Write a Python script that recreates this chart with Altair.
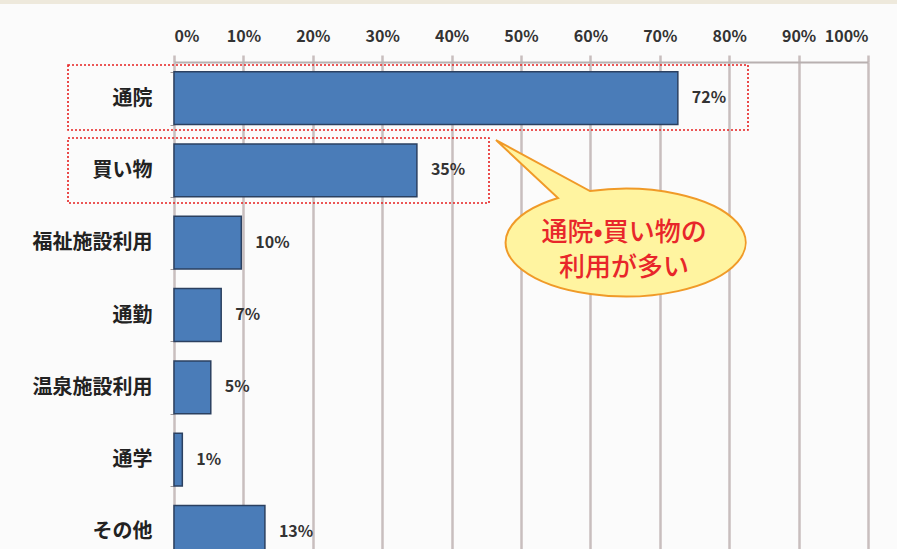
import altair as alt
import pandas as pd

categories = ["通院", "買い物", "福祉施設利用", "通勤", "温泉施設利用", "通学", "その他"]
values = [72.6, 35, 9.7, 6.8, 5.3, 1.2, 13.1]
value_labels = ["72%", "35%", "10%", "7%", "5%", "1%", "13%"]
callout_lines = ["通院•買い物の", "利用が多い"]

df = pd.DataFrame({"cat": categories, "val": values, "lab": value_labels})

FONT = "Noto Sans CJK JP"
x_scale = alt.Scale(domain=[0, 100])
y_enc = alt.Y("cat:N", sort=categories,
              scale=alt.Scale(paddingInner=0.27, paddingOuter=0.135),
              axis=alt.Axis(title=None, domain=False, ticks=True, tickBand="extent",
                            tickSize=4, tickColor="#a09898", labelPadding=18,
                            labelFontSize=20, labelFontWeight="bold", labelColor="#222222",
                            labelFont=FONT))

bars = alt.Chart(df).mark_bar(color="#4a7cb8", stroke="#2b4060", strokeWidth=1.5).encode(
    x=alt.X("val:Q", scale=x_scale,
            axis=alt.Axis(orient="top", title=None, values=list(range(0, 101, 10)),
                          labelExpr="datum.value + '%'", labelFontSize=16, labelFontWeight="bold",
                          labelColor="#333333", labelFont=FONT, labelPadding=11,
                          grid=True, gridColor="#c8bebe", gridWidth=2.5,
                          domain=True, domainColor="#b8b0b0", domainWidth=2,
                          ticks=True, tickSize=7, tickColor="#c8bebe", tickWidth=2.5)),
    y=y_enc,
)

labels = alt.Chart(df).mark_text(align="left", dx=14, fontSize=16, fontWeight="bold",
                                 color="#333333", font=FONT).encode(
    x=alt.X("val:Q", scale=x_scale),
    y=alt.Y("cat:N", sort=categories),
    text="lab:N",
)

one = alt.Data(values=[{}])

top_strip = alt.Chart(one).mark_rect(color="#eee9dc").encode(
    x=alt.value(-180), x2=alt.value(730), y=alt.value(-62), y2=alt.value(-58))

box1 = alt.Chart(one).mark_rect(fill=None, fillOpacity=0, stroke="#e62020", strokeWidth=1.6,
                                strokeDash=[2, 2]).encode(
    x=alt.value(-106), x2=alt.value(574), y=alt.value(3), y2=alt.value(68))
box2 = alt.Chart(one).mark_rect(fill=None, fillOpacity=0, stroke="#e62020", strokeWidth=1.6,
                                strokeDash=[2, 2]).encode(
    x=alt.value(-106), x2=alt.value(315), y=alt.value(76), y2=alt.value(141))

bubble_path = "M -0.242 -0.419 A 0.968 0.435 0 1 1 -0.5 -0.363 L -1 -0.83 Z"
bubble = alt.Chart(one).mark_point(shape=bubble_path, filled=True, fill="#fff4a0", fillOpacity=1,
                                   stroke="#f09a28", strokeWidth=2, opacity=1).encode(
    x=alt.value(446), y=alt.value(181), size=alt.value(61504))

t1 = alt.Chart(one).mark_text(fontSize=26, fontWeight=500, color="#e8262a", font=FONT).encode(
    x=alt.value(450), y=alt.value(171), text=alt.value(callout_lines[0]))
t2 = alt.Chart(one).mark_text(fontSize=26, fontWeight=500, color="#e8262a", font=FONT).encode(
    x=alt.value(450), y=alt.value(206), text=alt.value(callout_lines[1]))

chart = alt.layer(top_strip, bars, labels, box1, box2, bubble, t1, t2).properties(
    width=694, height=506,
    autosize=alt.AutoSizeParams(type="none"),
    padding={"left": 174, "top": 62, "right": 29, "bottom": 0},
    background="#fbfbfb",
).configure_view(stroke=None)

chart.save("out.html", embed_options={"renderer": "svg", "actions": False})
